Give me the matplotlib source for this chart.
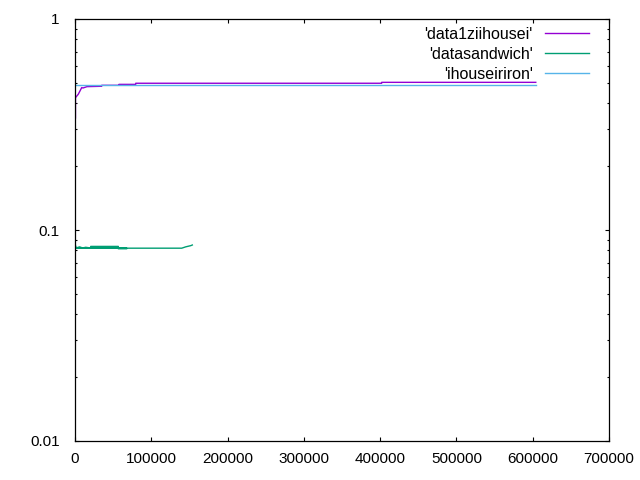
import numpy as np
import matplotlib
matplotlib.use("Agg")
import matplotlib.pyplot as plt

# data (kira-kira)
x_house = [600, 600, 900, 4300, 8800, 10500, 15700, 35000, 35000, 57700, 57700, 79600, 79600, 402000, 402000, 604000]
y_house = [0.340, 0.422, 0.425, 0.440, 0.473, 0.471, 0.478, 0.480, 0.485, 0.485, 0.490, 0.490, 0.496, 0.496, 0.501, 0.501]

x_sand = [500, 1000, 3000, 6000, 10000, 14000, 20600, 20600, 56800, 56800, 67800, 67800,
          1000, 139900, 145100, 151700, 153800]
y_sand = [0.0850, 0.0830, 0.0825, 0.0832, 0.0822, 0.0828, 0.0822, 0.0836, 0.0836, 0.0815, 0.0815, 0.0820,
          0.0820, 0.0820, 0.0832, 0.0843, 0.0849]

x_iron = [0, 604000]
y_iron = [0.486, 0.486]

labels = ["'data1ziihousei'", "'datasandwich'", "'ihouseiriron'"]
warna = ["#9400d3", "#009e73", "#56b4e9"]

plt.rcParams['font.family'] = ['Liberation Sans', 'DejaVu Sans']

fig = plt.figure(figsize=(6.4, 4.8), dpi=100)
ax = fig.add_axes([75/640, 1 - 441/480, 534/640, 422/480])

ax.plot(x_house, y_house, color=warna[0], lw=1, label=labels[0])
ax.plot(x_sand, y_sand, color=warna[1], lw=1, label=labels[1])
ax.plot(x_iron, y_iron, color=warna[2], lw=1, label=labels[2])

ax.set_yscale('log')
ax.set_ylim(0.01, 1)
ax.set_xlim(0, 700000)
ax.set_xticks(np.arange(0, 700001, 100000))
ax.set_xticklabels([str(v) for v in range(0, 700001, 100000)])
ax.set_yticks([0.01, 0.1, 1])
ax.set_yticklabels(['0.01', '0.1', '1'])

ax.tick_params(which='both', direction='in', top=True, right=True, labelsize=11)
ax.tick_params(which='major', length=3, width=0.8)
ax.tick_params(which='minor', length=1.6, width=0.8)
ax.tick_params(axis='y', which='major', pad=11)
ax.tick_params(axis='x', which='major', pad=8)
ax.xaxis.set_minor_locator(matplotlib.ticker.NullLocator())
for s in ax.spines.values():
    s.set_linewidth(0.9)

ax.legend(loc='upper right', bbox_to_anchor=(0.963, 0.981), frameon=False, markerfirst=False,
          fontsize=11.5, handlelength=2.75, handletextpad=0.8, labelspacing=0.3,
          borderpad=0, borderaxespad=0)

plt.savefig("out.png", dpi=100)
